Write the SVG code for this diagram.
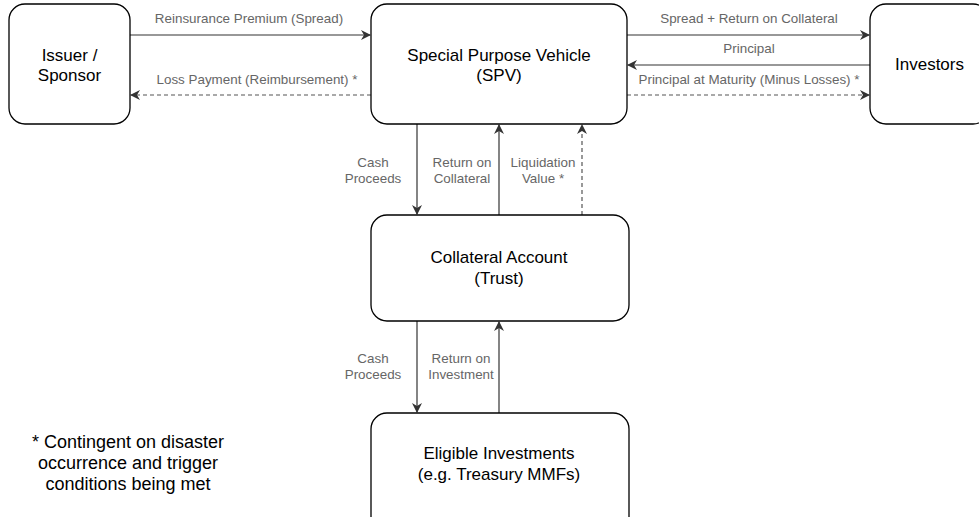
<svg xmlns="http://www.w3.org/2000/svg" width="979" height="517" viewBox="0 0 979 517">
<style>
.node{fill:#fff;stroke:#000;stroke-width:1.3}
.nt{font-family:"Liberation Sans",Arial,sans-serif;font-size:17px;fill:#000;text-anchor:middle}
.fn{font-family:"Liberation Sans",Arial,sans-serif;font-size:18px;fill:#000;text-anchor:middle}
.el{font-family:"Liberation Sans",Arial,sans-serif;font-size:13.4px;fill:#666;text-anchor:middle}
.e{fill:none;stroke:#333;stroke-width:1.2}
.d{stroke-dasharray:4 3;stroke:#555}
</style>
<defs>
<marker id="ar" viewBox="0 0 10 10" refX="9" refY="5" markerWidth="10" markerHeight="10" markerUnits="userSpaceOnUse" orient="auto">
<path d="M0,0 L10,5 L0,10 L3,5 Z" fill="#333"/>
</marker>
</defs>
<rect width="979" height="517" fill="#fff"/>
<g id="connectors">
<path class="e" d="M130,35 H370" marker-end="url(#ar)"/>
<path class="e d" d="M371,95 H131" marker-end="url(#ar)"/>
<path class="e" d="M627,35 H869" marker-end="url(#ar)"/>
<path class="e" d="M870,65 H628" marker-end="url(#ar)"/>
<path class="e d" d="M627,95 H869" marker-end="url(#ar)"/>
<path class="e" d="M417,124 V214" marker-end="url(#ar)"/>
<path class="e" d="M499,215 V125" marker-end="url(#ar)"/>
<path class="e d" d="M582,215 V125" marker-end="url(#ar)"/>
<path class="e" d="M417,321 V412" marker-end="url(#ar)"/>
<path class="e" d="M499,413 V322" marker-end="url(#ar)"/>
<text class="el" x="249" y="23">Reinsurance Premium (Spread)</text>
<text class="el" x="257" y="84">Loss Payment (Reimbursement) *</text>
<text class="el" x="749" y="23">Spread + Return on Collateral</text>
<text class="el" x="749" y="53">Principal</text>
<text class="el" x="749" y="84">Principal at Maturity (Minus Losses) *</text>
<text class="el" x="373" y="167">Cash</text>
<text class="el" x="373" y="183">Proceeds</text>
<text class="el" x="462" y="167">Return on</text>
<text class="el" x="462" y="183">Collateral</text>
<text class="el" x="543" y="167">Liquidation</text>
<text class="el" x="543" y="183">Value *</text>
<text class="el" x="373" y="363">Cash</text>
<text class="el" x="373" y="379">Proceeds</text>
<text class="el" x="461" y="363">Return on</text>
<text class="el" x="461" y="379">Investment</text>
</g>
<g id="issuer">
<rect class="node" x="9" y="4" width="121" height="120" rx="16"/>
<text class="nt" x="69.5" y="61">Issuer /</text>
<text class="nt" x="69.5" y="81">Sponsor</text>
</g>
<g id="spv">
<rect class="node" x="371" y="4" width="256" height="120" rx="16"/>
<text class="nt" x="499" y="61">Special Purpose Vehicle</text>
<text class="nt" x="499" y="81">(SPV)</text>
</g>
<g id="investors">
<rect class="node" x="870" y="4" width="119" height="120" rx="16"/>
<text class="nt" x="929.5" y="70">Investors</text>
</g>
<g id="collateral">
<rect class="node" x="371" y="215" width="258" height="106" rx="16"/>
<text class="nt" x="499" y="263">Collateral Account</text>
<text class="nt" x="499" y="284">(Trust)</text>
</g>
<g id="eligible">
<rect class="node" x="371" y="413" width="258" height="120" rx="16"/>
<text class="nt" x="499" y="459">Eligible Investments</text>
<text class="nt" x="499" y="480">(e.g. Treasury MMFs)</text>
</g>
<g id="footnote">
<text class="fn" x="128" y="448">* Contingent on disaster</text>
<text class="fn" x="128" y="469">occurrence and trigger</text>
<text class="fn" x="128" y="490">conditions being met</text>
</g>
</svg>
